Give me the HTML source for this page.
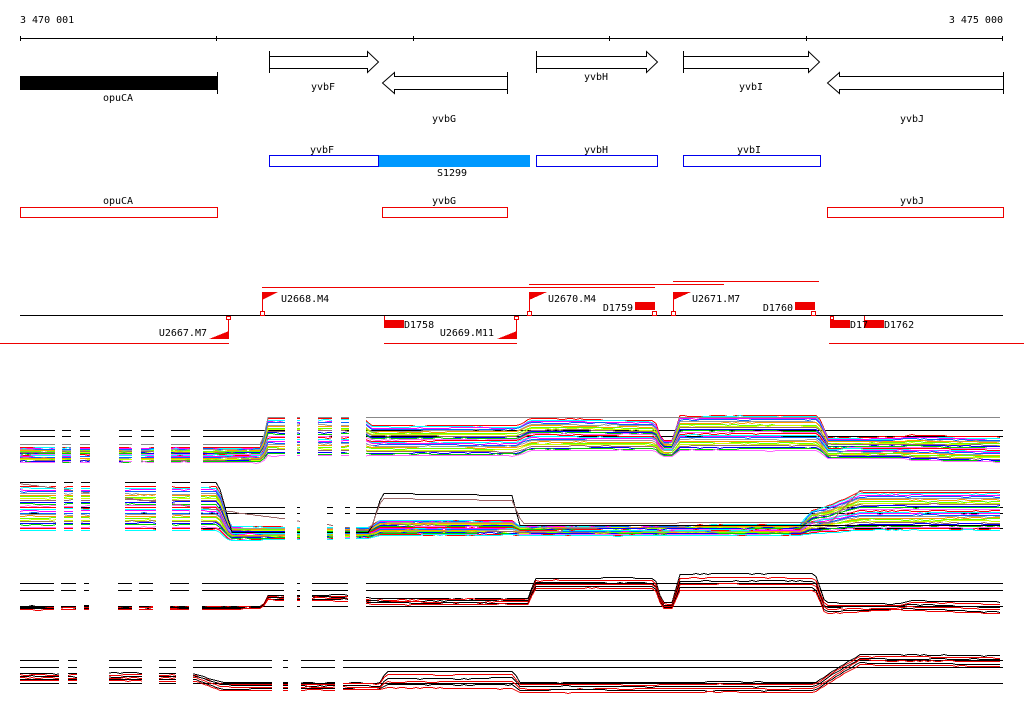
<!DOCTYPE html>
<html><head><meta charset="utf-8"><style>
html,body{margin:0;padding:0;background:#fff;width:1024px;height:714px;overflow:hidden}
svg text{font-family:"DejaVu Sans Mono","Liberation Mono",monospace;font-size:10px;fill:#000}
</style></head><body>
<svg id="s" width="1024" height="714" xmlns="http://www.w3.org/2000/svg" shape-rendering="crispEdges">
<text x="20" y="23">3 470 001</text>
<text x="1003" y="23" text-anchor="end">3 475 000</text>
<line x1="20" y1="38.5" x2="1003" y2="38.5" stroke="#000"/>
<g stroke="#000"><line x1="20.5" y1="36" x2="20.5" y2="41"/><line x1="216.5" y1="36" x2="216.5" y2="41"/><line x1="413.5" y1="36" x2="413.5" y2="41"/><line x1="609.5" y1="36" x2="609.5" y2="41"/><line x1="806.5" y1="36" x2="806.5" y2="41"/><line x1="1002.5" y1="36" x2="1002.5" y2="41"/></g>
<rect x="20" y="76" width="197" height="14" fill="#000"/>
<line x1="217.5" y1="72" x2="217.5" y2="94" stroke="#000"/>
<text x="118" y="101" text-anchor="middle">opuCA</text>
<g fill="#fff" stroke="#000" shape-rendering="auto">
<path d="M269.5 56.5 H367.5 V51.5 L378.5 62 L367.5 72.5 V68.5 H269.5 Z"/>
<path d="M507.5 76.5 H394.5 V72.5 L382.5 83 L394.5 93.5 V89.5 H507.5 Z"/>
<path d="M536.5 56.5 H646.5 V51.5 L657.5 62 L646.5 72.5 V68.5 H536.5 Z"/>
<path d="M683.5 56.5 H808.5 V51.5 L819.5 62 L808.5 72.5 V68.5 H683.5 Z"/>
<path d="M1003.5 76.5 H839.5 V72.5 L827.5 83 L839.5 93.5 V89.5 H1003.5 Z"/>
</g>
<g stroke="#000"><line x1="269.5" y1="51" x2="269.5" y2="73"/><line x1="507.5" y1="72" x2="507.5" y2="94"/><line x1="536.5" y1="51" x2="536.5" y2="73"/><line x1="683.5" y1="51" x2="683.5" y2="73"/><line x1="1003.5" y1="72" x2="1003.5" y2="94"/></g>
<text x="323" y="90" text-anchor="middle">yvbF</text>
<text x="444" y="122" text-anchor="middle">yvbG</text>
<text x="596" y="80" text-anchor="middle">yvbH</text>
<text x="751" y="90" text-anchor="middle">yvbI</text>
<text x="912" y="122" text-anchor="middle">yvbJ</text>
<rect x="379" y="155" width="151" height="12" fill="#0099ff"/>
<g fill="none" stroke="#0000ee"><rect x="269.5" y="155.5" width="109" height="11"/><rect x="536.5" y="155.5" width="121" height="11"/><rect x="683.5" y="155.5" width="137" height="11"/></g>
<text x="322" y="153" text-anchor="middle">yvbF</text>
<text x="596" y="153" text-anchor="middle">yvbH</text>
<text x="749" y="153" text-anchor="middle">yvbI</text>
<text x="452" y="176" text-anchor="middle">S1299</text>
<g fill="none" stroke="#e00"><rect x="20.5" y="207.5" width="197" height="10"/><rect x="382.5" y="207.5" width="125" height="10"/><rect x="827.5" y="207.5" width="176" height="10"/></g>
<text x="118" y="204" text-anchor="middle">opuCA</text>
<text x="444" y="204" text-anchor="middle">yvbG</text>
<text x="912" y="204" text-anchor="middle">yvbJ</text>
<g stroke="#e00">
<line x1="262" y1="287.5" x2="520" y2="287.5"/><line x1="500" y1="287.5" x2="655" y2="287.5"/>
<line x1="529" y1="284.5" x2="724" y2="284.5"/><line x1="673" y1="281.5" x2="819" y2="281.5"/>
<line x1="0" y1="343.5" x2="229" y2="343.5"/><line x1="384" y1="343.5" x2="517" y2="343.5"/><line x1="829" y1="343.5" x2="1024" y2="343.5"/>
</g>
<line x1="20" y1="315.5" x2="1003" y2="315.5" stroke="#000"/>
<g fill="#e00" stroke="#e00">
<line x1="262.5" y1="292" x2="262.5" y2="315"/><path d="M262 292 H278 L262 300Z" stroke="none"/>
<line x1="228.5" y1="316" x2="228.5" y2="338"/><path d="M229 331 V339 H209Z" stroke="none"/>
<line x1="516.5" y1="316" x2="516.5" y2="338"/><path d="M517 331 V339 H497Z" stroke="none"/>
<line x1="529.5" y1="292" x2="529.5" y2="315"/><path d="M529 292 H547 L529 300Z" stroke="none"/>
<line x1="673.5" y1="292" x2="673.5" y2="315"/><path d="M673 292 H691 L673 300Z" stroke="none"/>
<rect x="384" y="320" width="20" height="8" stroke="none"/><line x1="384.5" y1="316" x2="384.5" y2="320"/>
<rect x="635" y="302" width="20" height="8" stroke="none"/>
<rect x="795" y="302" width="20" height="8" stroke="none"/>
<rect x="830" y="320" width="20" height="8" stroke="none"/>
<rect x="864" y="320" width="20" height="8" stroke="none"/><line x1="864.5" y1="316" x2="864.5" y2="320"/>
</g>
<g fill="#fff" stroke="#e00"><rect x="260.5" y="311.5" width="4" height="4"/><rect x="226.5" y="316.5" width="4" height="3"/><rect x="514.5" y="316.5" width="4" height="3"/><rect x="527.5" y="311.5" width="4" height="4"/><rect x="652.5" y="311.5" width="4" height="4"/><rect x="671.5" y="311.5" width="4" height="4"/><rect x="811.5" y="311.5" width="4" height="4"/><rect x="830.5" y="316.5" width="3" height="3"/></g>
<text x="281" y="302">U2668.M4</text>
<text x="207" y="336" text-anchor="end">U2667.M7</text>
<text x="404" y="328">D1758</text>
<text x="494" y="336" text-anchor="end">U2669.M11</text>
<text x="548" y="302">U2670.M4</text>
<text x="633" y="311" text-anchor="end">D1759</text>
<text x="692" y="302">U2671.M7</text>
<text x="793" y="311" text-anchor="end">D1760</text>
<text x="850" y="328">D17</text>
<text x="884" y="328">D1762</text>
<g id="plots"></g>
</svg>
<script>
(function(){
var NS="http://www.w3.org/2000/svg",g=document.getElementById("plots");
var seed=7;function rnd(){seed=(seed*16807)%2147483647;return seed/2147483647;}
var rainbow=["#ff0000","#00ffff","#ff00ff","#0066ff","#999999","#ff9900","#66ff00","#ccff00","#996666","#0000ff","#00cc00","#ff66ff"];
function interp(prof,x){for(var i=0;i<prof.length-1;i++){if(x<=prof[i+1][0]){var a=prof[i],b=prof[i+1],t=(x-a[0])/(b[0]-a[0]||1);return [a[1]+(b[1]-a[1])*t,a[2]+(b[2]-a[2])*t];}}var l=prof[prof.length-1];return [l[1],l[2]];}
function line(pts,c){var p=document.createElementNS(NS,"polyline");p.setAttribute("points",pts.join(" "));p.setAttribute("fill","none");p.setAttribute("stroke",c);p.setAttribute("stroke-width",1);g.appendChild(p);}
function panel(prof,refs,segs,n,colors,y0,y1,extra){
 for(var k=0;k<refs.length;k++){line(["20,"+(refs[k]+.5),"1003,"+(refs[k]+.5)],"#000");}
 for(var i=0;i<n;i++){var f=i/(n-1),pts=[],off=0;
  for(var x=20;x<=1003;x+=4){off+=(rnd()-.5)*0.6;off*=0.9;var r=interp(prof,x);var y=Math.round(r[0]+(r[1]-r[0])*f+off);pts.push(x+","+(y+.5));}
  line(pts,colors[i%colors.length]);}
 if(extra){for(var e=0;e<extra.length;e++){var pts=[];for(var x=20;x<=1003;x+=4){var r=interp(extra[e][0],x);pts.push(x+","+(Math.round(r[0])+.5));}line(pts,extra[e][1]);}}
 var prev=0;segs.push([1024,1024]);
 for(var s=0;s<segs.length;s++){var r=document.createElementNS(NS,"rect");r.setAttribute("x",prev);r.setAttribute("width",Math.max(0,segs[s][0]-prev));r.setAttribute("y",y0);r.setAttribute("height",y1-y0);r.setAttribute("fill","#fff");g.appendChild(r);prev=segs[s][1];}
}
panel([[20,447,462],[262,447,462],[268,418,455],[365,418,455],[370,425,455],[518,425,455],[530,418,450],[655,420,450],[662,440,456],[672,440,456],[680,415,450],[818,415,450],[828,437,458],[900,437,458],[910,435,460],[1003,437,462]],
 [430,436],[[20,55],[62,71],[80,90],[119,132],[141,154],[171,190],[203,285],[297,300],[318,332],[341,349],[366,1003]],24,rainbow,410,470,
 [[[[20,444,0],[262,444,0],[268,417,0],[1003,417,0]],"#888"]]);
panel([[20,486,530],[218,486,530],[230,526,540],[370,527,538],[380,520,535],[512,520,535],[520,526,535],[800,524,535],[812,510,533],[830,505,532],[860,492,530],[1003,492,530]],
 [507,513,528],[[20,56],[64,73],[81,90],[125,156],[172,190],[201,285],[297,300],[327,333],[345,350],[356,1003]],26,rainbow,475,545,
 [[[[20,482,0],[218,482,0],[232,532,0],[370,532,0],[382,493,0],[512,495,0],[520,525,0],[1003,525,0]],"#000"],[[[20,483,0],[370,530,0],[382,498,0],[512,500,0],[522,523,0],[830,522,0],[860,490,0],[1003,490,0]],"#996666"]]);
panel([[20,606,609],[262,606,609],[268,595,600],[345,595,600],[370,598,604],[528,598,604],[535,578,588],[655,578,588],[662,602,608],[672,602,608],[680,574,590],[815,574,590],[825,603,613],[900,603,610],[910,600,610],[1003,602,614]],
 [583,590,606],[[20,54],[61,76],[84,89],[118,132],[139,153],[170,189],[202,284],[297,300],[312,348],[366,1003]],6,["#000","#e00","#000","#e00","#000","#e00"],570,620);
panel([[20,673,680],[195,673,680],[222,682,690],[380,682,690],[386,671,688],[513,671,688],[520,682,692],[815,682,692],[830,672,682],[860,654,664],[1003,655,666]],
 [660,667,683],[[20,54],[51,59],[68,77],[109,142],[159,176],[193,272],[283,288],[301,335],[343,1003]],6,["#000","#e00","#000","#e00","#000","#e00"],650,700);
})();
</script>
</body></html>
